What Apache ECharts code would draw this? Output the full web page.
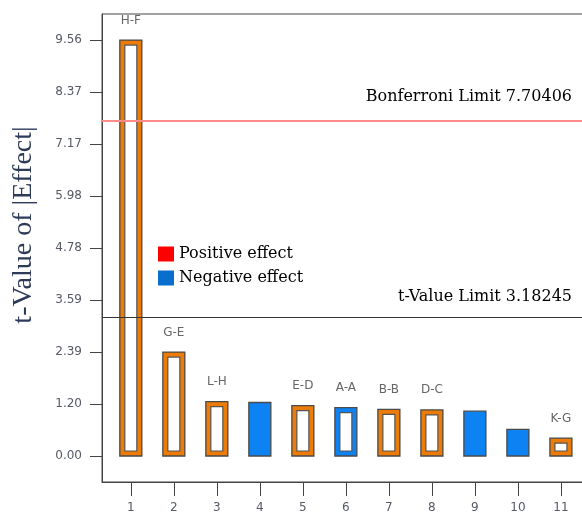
<!DOCTYPE html>
<html>
<head>
<meta charset="utf-8">
<script src="https://cdn.jsdelivr.net/npm/echarts@6/dist/echarts.min.js"></script>
<style>
  html, body { margin: 0; padding: 0; background: #fff; }
  #chart { width: 582px; height: 514px; }
</style>
</head>
<body>
<div id="chart"></div>
<script>
const runOrder = [1, 2, 3, 4, 5, 6, 7, 8, 9, 10, 11];
const tValues = [9.56, 2.39, 1.25, 1.23, 1.16, 1.11, 1.07, 1.06, 1.03, 0.61, 0.41];
const termLabels = ["H-F", "G-E", "L-H", "", "E-D", "A-A", "B-B", "D-C", "", "", "K-G"];
const effectColor = ["orange", "orange", "orange", "blue", "orange", "blue", "orange", "orange", "blue", "blue", "orange"];
const hollow = [1, 1, 1, 0, 1, 1, 1, 1, 0, 0, 1];
const yTickLabels = ["0.00", "1.20", "2.39", "3.59", "4.78", "5.98", "7.17", "8.37", "9.56"];
const bonferroniLimit = 7.70406;
const tValueLimit = 3.18245;

const colors = { orange: "#EC7B08", blue: "#0D82F2" };
const yTickValues = yTickLabels.map(Number);

const chart = echarts.init(document.getElementById("chart"));

const barData = runOrder.map((x, i) => [x, tValues[i], i]);

chart.setOption({
  animation: false,
  grid: {
    left: 102,
    top: 14,
    right: -3,
    bottom: 32,
    outerBoundsMode: "none",
    show: true,
    borderColor: "#444",
    borderWidth: 1,
  },
  legend: {
    orient: "vertical",
    left: 153,
    top: 241,
    itemWidth: 16,
    itemHeight: 15,
    itemGap: 8,
    icon: "rect",
    textStyle: { fontFamily: "DejaVu Serif", fontSize: 16, color: "#000" },
    data: ["Positive effect", "Negative effect"],
  },
  xAxis: {
    type: "value",
    min: 0.33,
    max: 11.56,
    splitLine: { show: false },
    axisLine: { onZero: false, lineStyle: { color: "#444" } },
    axisTick: { length: 14, lineStyle: { color: "#444" }, customValues: runOrder },
    axisLabel: {
      customValues: runOrder,
      margin: 20,
      color: "#555a66",
      fontFamily: "DejaVu Sans",
      fontSize: 12,
    },
  },
  yAxis: {
    type: "value",
    min: -0.5975,
    max: 10.16,
    splitLine: { show: false },
    axisLine: { show: true, lineStyle: { color: "#444" } },
    axisTick: {
      show: true,
      length: 12,
      lineStyle: { color: "#444" },
      customValues: yTickValues,
    },
    axisLabel: {
      customValues: yTickValues,
      formatter: (v) => yTickLabels[yTickValues.indexOf(v)],
      margin: 20,
      color: "#555a66",
      fontFamily: "DejaVu Sans",
      fontSize: 12,
    },
    name: "t-Value of |Effect|",
    nameLocation: "middle",
    nameRotate: 90,
    nameGap: 64,
    nameTextStyle: {
      fontFamily: "Liberation Serif",
      fontSize: 28,
      color: "#2d3a5a",
      padding: [0, 0, 0, 46],
    },
  },
  series: [
    {
      type: "custom",
      name: "effects",
      data: barData,
      encode: { x: 0, y: 1 },
      renderItem: function (params, api) {
        const x = api.value(0);
        const idx = api.value(2);
        const top = api.coord([x, api.value(1)]);
        const base = api.coord([x, 0]);
        const w = 22;
        const h = base[1] - top[1];
        const children = [
          {
            type: "rect",
            shape: { x: top[0] - w / 2, y: top[1], width: w, height: h },
            style: { fill: colors[effectColor[idx]], stroke: "#4a4a4a", lineWidth: 1.3 },
            textContent: {
              style: {
                text: termLabels[idx],
                fill: "#666",
                font: "12px 'DejaVu Sans'",
              },
            },
            textConfig: { position: "top", distance: 13 },
          },
        ];
        if (hollow[idx]) {
          children.push({
            type: "rect",
            shape: { x: top[0] - w / 2 + 5, y: top[1] + 5, width: w - 10, height: h - 10 },
            style: { fill: "#fff", stroke: "#555", lineWidth: 1.2 },
          });
        }
        return { type: "group", children: children };
      },
      markLine: {
        silent: true,
        symbol: "none",
        label: {
          position: "insideEndTop",
          fontFamily: "DejaVu Serif",
          fontSize: 16,
          color: "#000",
        },
        data: [
          {
            yAxis: bonferroniLimit,
            lineStyle: { color: "#FF8A8A", width: 2, type: "solid" },
            label: { formatter: "Bonferroni Limit " + bonferroniLimit, distance: [13, 16] },
          },
          {
            yAxis: tValueLimit,
            lineStyle: { color: "#333", width: 1, type: "solid" },
            label: { formatter: "t-Value Limit " + tValueLimit, distance: [13, 13] },
          },
        ],
      },
    },
    { type: "bar", name: "Positive effect", data: [], itemStyle: { color: "#FF0000" } },
    { type: "bar", name: "Negative effect", data: [], itemStyle: { color: "#0A6FCC" } },
  ],
});
</script>
</body>
</html>
